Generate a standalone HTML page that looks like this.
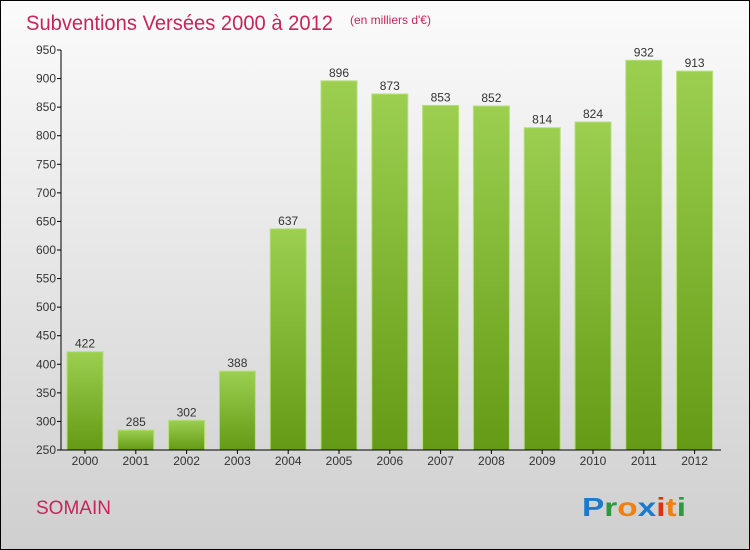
<!DOCTYPE html>
<html><head><meta charset="utf-8"><style>
body{margin:0;width:750px;height:550px;overflow:hidden}
#c{position:absolute;left:0;top:0;width:748px;height:548px;border:1px solid #000;background:linear-gradient(#fbfbfb,#cfcfcf)}
svg{position:absolute;left:0;top:0}
text{font-family:"Liberation Sans",sans-serif}
</style></head><body>
<div id="c"></div>
<svg id="s" width="750" height="550">
<defs><linearGradient id="g" x1="0" y1="0" x2="0" y2="1"><stop offset="0" stop-color="#9ccf50"/><stop offset="1" stop-color="#649a15"/></linearGradient></defs>
<text x="26" y="30" font-size="21" fill="#c8245a" textLength="307" lengthAdjust="spacingAndGlyphs">Subventions Versées 2000 à 2012</text>
<text x="350" y="24" font-size="12" fill="#c8245a">(en milliers d'€)</text>
<text x="36" y="514" font-size="19" fill="#c8245a">SOMAIN</text>
<text x="582" y="516" font-size="26" font-weight="bold" textLength="104" lengthAdjust="spacingAndGlyphs"><tspan fill="#1a7ad0">P</tspan><tspan fill="#2a9a3a">r</tspan><tspan fill="#f08010">o</tspan><tspan fill="#1a7ad0">x</tspan><tspan fill="#e03010">i</tspan><tspan fill="#f08010">t</tspan><tspan fill="#2a9a3a">i</tspan></text>
<g id="plot"></g>
</svg>
<script>
const years=["2000","2001","2002","2003","2004","2005","2006","2007","2008","2009","2010","2011","2012"];
const values=[422,285,302,388,637,896,873,853,852,814,824,932,913];
const ticks=[250,300,350,400,450,500,550,600,650,700,750,800,850,900,950];
const NS="http://www.w3.org/2000/svg",p=document.getElementById('plot');
const y=v=>450-(v-250)*400/700, x=i=>85+i*50.8;
function mk(t,a){const e=document.createElementNS(NS,t);for(const k in a)e.setAttribute(k,a[k]);p.appendChild(e);return e;}
ticks.forEach(t=>{
const l=mk('line',{x1:57,x2:61,y1:y(t),y2:y(t),stroke:'#000'});


const tx=mk('text',{x:56,y:y(t)+4,'font-size':12,'text-anchor':'end',fill:'#333'});tx.textContent=t;


});
values.forEach((v,i)=>{
const r=mk('rect',{x:x(i)-18,y:y(v),width:36,height:450-y(v),fill:'url(#g)',stroke:'#b5e07a','stroke-width':1});


const t=mk('text',{x:x(i),y:y(v)-4,'font-size':12,'text-anchor':'middle',fill:'#333'});t.textContent=v;


const l=mk('text',{x:x(i),y:465,'font-size':12,'text-anchor':'middle',fill:'#333'});l.textContent=years[i];


const tk=mk('line',{x1:x(i),x2:x(i),y1:450,y2:454,stroke:'#000'});


});
const ya=mk('line',{x1:61,x2:61,y1:50,y2:450,stroke:'#000'});


const xa=mk('line',{x1:61,x2:721,y1:450,y2:450,stroke:'#000'});


</script>
</body></html>
